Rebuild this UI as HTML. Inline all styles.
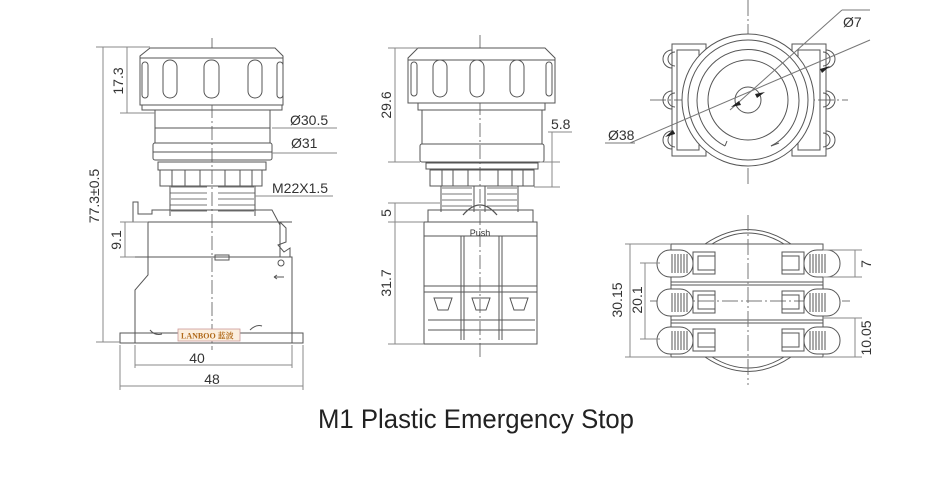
<!DOCTYPE html>
<html><head><meta charset="utf-8"><style>
html,body{margin:0;padding:0;background:#fff}
svg{display:block}
text{font-family:"Liberation Sans",sans-serif;fill:#333}
</style></head><body>
<svg width="951" height="480" viewBox="0 0 951 480" xmlns="http://www.w3.org/2000/svg">
<g fill="none" stroke="#555" stroke-width="1">
<!-- ===== LEFT VIEW ===== -->
<line x1="212" y1="38" x2="212" y2="350" stroke-dasharray="14 3 2 3" stroke="#777"/>
<path d="M150 48 H275 L283 56 V105 H140 V56 Z" fill="#fff"/>
<line x1="140" y1="58" x2="283" y2="58"/>
<g>
<rect x="142" y="62" width="6" height="36" rx="3"/><rect x="163" y="60" width="14" height="38" rx="7"/>
<rect x="204" y="60" width="15" height="38" rx="7"/><rect x="248" y="60" width="14" height="38" rx="7"/>
<rect x="277" y="62" width="6" height="36" rx="3"/>
</g>
<path d="M142 105 V110 H282 V105"/>
<rect x="155" y="110" width="115" height="33"/>
<line x1="155" y1="128" x2="270" y2="128"/>
<rect x="153" y="143" width="119" height="17" rx="2"/>
<line x1="153" y1="152" x2="272" y2="152"/>
<rect x="158" y="162" width="108" height="8"/>
<rect x="160" y="170" width="102" height="16"/>
<path d="M172 170 V186 M185 170 V186 M200 170 V186 M225 170 V186 M240 170 V186 M252 170 V186"/>
<path d="M171 187 H207 M170 193 H207 M171 199 H207 M170 205 H207 M171 211 H207 M218 187 H254 M218 193 H255 M218 199 H254 M218 205 H255 M218 211 H254" stroke="#777"/>
<path d="M170 186 V216 M255 186 V216"/>
<path d="M133 222 V202 H138 V214 H152 V210 H265 L272 210 L280 225"/>
<line x1="133" y1="222" x2="292" y2="222"/>
<path d="M148 222 V257 H280 V222" />
<path d="M280 222 L286 228 V242 L278 245 L284 252 L290 248 V257"/>
<path d="M135 257 H292 V333"/>
<path d="M148 257 V275 L135 290 V333"/>
<rect x="215" y="255" width="14" height="5"/>
<circle cx="281" cy="263" r="3"/>
<path d="M274 277 h10 M274 277 l3 -2 M274 277 l3 2"/>
<path d="M150 330 q5 6 12 4 M250 330 q6 -6 12 -4"/>
<rect x="120" y="333" width="183" height="10"/>
<line x1="135" y1="333" x2="135" y2="343"/><line x1="292" y1="333" x2="292" y2="343"/>
<line x1="96" y1="47" x2="150" y2="47" stroke="#888"/>
<line x1="127" y1="47" x2="127" y2="113" stroke="#888"/>
<line x1="120" y1="113" x2="155" y2="113" stroke="#888"/>
<line x1="103" y1="47" x2="103" y2="342" stroke="#888"/>
<line x1="96" y1="342" x2="120" y2="342" stroke="#888"/>
<line x1="125" y1="222" x2="125" y2="257" stroke="#888"/>
<line x1="120" y1="222" x2="148" y2="222" stroke="#888"/>
<line x1="120" y1="257" x2="135" y2="257" stroke="#888"/>
<line x1="272" y1="128" x2="337" y2="128" stroke="#888"/>
<line x1="272" y1="153" x2="337" y2="153" stroke="#888"/>
<line x1="255" y1="196" x2="333" y2="196" stroke="#888"/>
<line x1="135" y1="345" x2="135" y2="368" stroke="#888"/>
<line x1="292" y1="345" x2="292" y2="368" stroke="#888"/>
<line x1="135" y1="365" x2="292" y2="365" stroke="#888"/>
<line x1="120" y1="345" x2="120" y2="390" stroke="#888"/>
<line x1="303" y1="345" x2="303" y2="390" stroke="#888"/>
<line x1="120" y1="386" x2="303" y2="386" stroke="#888"/>

<!-- ===== MIDDLE VIEW ===== -->
<line x1="480" y1="35" x2="480" y2="360" stroke-dasharray="14 3 2 3" stroke="#777"/>
<path d="M418 48 H545 L555 58 V103 H408 V58 Z" fill="#fff"/>
<line x1="408" y1="60" x2="555" y2="60"/>
<rect x="411" y="62" width="6" height="34" rx="3"/><rect x="433" y="60" width="14" height="37" rx="7"/>
<rect x="470" y="60" width="14" height="37" rx="7"/><rect x="510" y="60" width="14" height="37" rx="7"/>
<rect x="546" y="62" width="6" height="34" rx="3"/>
<path d="M418 103 V110 H545 V103"/>
<rect x="422" y="110" width="120" height="34"/>
<rect x="420" y="144" width="124" height="18" rx="2"/>
<rect x="426" y="163" width="112" height="6"/>
<rect x="430" y="170" width="104" height="16"/>
<path d="M442 170 V186 M453 170 V186 M468 170 V186 M498 170 V186 M512 170 V186 M523 170 V186"/>
<path d="M442 188 H472 M442 194 H472 M442 200 H472 M442 206 H472 M487 188 H517 M487 194 H517 M487 200 H517 M487 206 H517" stroke="#777"/>
<path d="M441 186 V212 M518 186 V212 M474 186 V212 M485 186 V212"/>
<path d="M428 222 V210 H533 V222"/>
<path d="M463 215 Q480 195 497 215" stroke-width="1.3"/>
<rect x="424" y="222" width="113" height="122"/>
<line x1="424" y1="236" x2="537" y2="236"/>
<path d="M461 236 V340 M464 236 V340 M499 236 V340 M502 236 V340"/>
<path d="M424 286 H537 M424 292 H537"/>
<path d="M434 298 H452 L448 310 H438 Z M472 298 H490 L486 310 H476 Z M510 298 H528 L524 310 H514 Z"/>
<path d="M428 320 H535 M428 330 H535"/>
<line x1="388" y1="48" x2="418" y2="48" stroke="#888"/>
<line x1="395" y1="48" x2="395" y2="162" stroke="#888"/>
<line x1="388" y1="162" x2="420" y2="162" stroke="#888"/>
<line x1="548" y1="132" x2="572" y2="132" stroke="#888"/>
<line x1="552" y1="132" x2="552" y2="187" stroke="#888"/>
<line x1="540" y1="162" x2="560" y2="162" stroke="#888"/>
<line x1="534" y1="187" x2="560" y2="187" stroke="#888"/>
<line x1="388" y1="203" x2="440" y2="203" stroke="#888"/>
<line x1="395" y1="203" x2="395" y2="344" stroke="#888"/>
<line x1="388" y1="222" x2="424" y2="222" stroke="#888"/>
<line x1="388" y1="344" x2="424" y2="344" stroke="#888"/>

<!-- ===== TOP RIGHT VIEW ===== -->
<line x1="748" y1="0" x2="748" y2="185" stroke-dasharray="16 3 2 3" stroke="#777"/>
<line x1="650" y1="100" x2="848" y2="100" stroke-dasharray="16 3 2 3" stroke="#777"/>
<path d="M672 50 a9 9 0 0 0 0 18 M672 91 a9 9 0 0 0 0 18 M672 131 a9 9 0 0 0 0 18"/>
<path d="M826 50 a9 9 0 0 1 0 18 M826 91 a9 9 0 0 1 0 18 M826 131 a9 9 0 0 1 0 18"/>
<path d="M675 52 a7 7 0 0 0 0 14 M675 93 a7 7 0 0 0 0 14 M675 133 a7 7 0 0 0 0 14"/>
<path d="M823 52 a7 7 0 0 1 0 14 M823 93 a7 7 0 0 1 0 14 M823 133 a7 7 0 0 1 0 14"/>
<rect x="672" y="44" width="34" height="112"/><rect x="677" y="50" width="22" height="100"/>
<rect x="792" y="44" width="34" height="112"/><rect x="798" y="50" width="22" height="100"/>
<circle cx="748" cy="100" r="66" fill="#fff"/>
<circle cx="748" cy="100" r="60"/>
<path d="M771 146 A51 51 0 1 0 725 146"/>
<path d="M725 146 l2 -5 M771 146 l8 -3"/>
<circle cx="748" cy="100" r="40"/>
<circle cx="748" cy="100" r="13"/>
<line x1="630" y1="143" x2="870" y2="40" stroke="#777"/>
<line x1="730" y1="110" x2="842" y2="10" stroke="#777"/>
<line x1="842" y1="10" x2="870" y2="10" stroke="#777"/>
<line x1="605" y1="143" x2="635" y2="143" stroke="#777"/>
<!-- ===== BOTTOM RIGHT VIEW ===== -->
<path d="M705 244 Q748 215 791 244"/><path d="M712 244 Q748 222 784 244"/>
<path d="M705 357 Q748 386 791 357"/><path d="M712 357 Q748 379 784 357"/>
<rect x="671" y="244" width="152" height="113" fill="#fff"/>
<path d="M671 282 H823 M671 285 H823 M671 320 H823 M671 323 H823" />
<line x1="748" y1="215" x2="748" y2="385" stroke-dasharray="16 3 2 3" stroke="#777"/>
<line x1="650" y1="301" x2="850" y2="301" stroke-dasharray="16 3 2 3" stroke="#777"/>
<g id="row">
<rect x="657" y="250" width="36" height="27" rx="13" fill="#fff"/>
<path d="M672 254 V273 M675 254 V273 M678 254 V273 M681 254 V273 M684 254 V273 M687 254 V273"/>
<rect x="693" y="252" width="22" height="22"/><rect x="698" y="256" width="17" height="14"/>
<rect x="804" y="250" width="36" height="27" rx="13" fill="#fff"/>
<path d="M810 254 V273 M813 254 V273 M816 254 V273 M819 254 V273 M822 254 V273 M825 254 V273"/>
<rect x="782" y="252" width="22" height="22"/><rect x="782" y="256" width="17" height="14"/>
</g>
<use href="#row" y="39"/>
<use href="#row" y="77"/>
<line x1="625" y1="244" x2="671" y2="244" stroke="#888"/>
<line x1="625" y1="357" x2="671" y2="357" stroke="#888"/>
<line x1="630" y1="244" x2="630" y2="357" stroke="#888"/>
<line x1="640" y1="263" x2="660" y2="263" stroke="#888"/>
<line x1="640" y1="339" x2="660" y2="339" stroke="#888"/>
<line x1="645" y1="263" x2="645" y2="339" stroke="#888"/>
<line x1="823" y1="250" x2="862" y2="250" stroke="#888"/>
<line x1="823" y1="277" x2="862" y2="277" stroke="#888"/>
<line x1="855" y1="250" x2="855" y2="277" stroke="#888"/>
<line x1="823" y1="318" x2="862" y2="318" stroke="#888"/>
<line x1="823" y1="357" x2="862" y2="357" stroke="#888"/>
<line x1="855" y1="318" x2="855" y2="357" stroke="#888"/>
</g>
<g fill="#222">
<path d="M665 137 l8 -7 l2 4 Z"/><path d="M830 66 l-8 7 l-2 -4 Z"/>
<path d="M731 107 l8 -6 l2 4 Z"/><path d="M765 92 l-8 6 l-2 -4 Z"/>
</g>
<rect x="178" y="329" width="62" height="12" fill="#fbeedd" stroke="#c99" stroke-width="0.8"/>
<text x="181" y="338.5" font-size="8" style="fill:#b06a1a;font-family:'Liberation Serif','Noto Serif CJK SC',serif;font-weight:bold">LANBOO 蓝波</text>
<g font-size="14">
<text x="290" y="125">Ø30.5</text>
<text x="291" y="148">Ø31</text>
<text x="272" y="193">M22X1.5</text>
<text x="197" y="363" text-anchor="middle">40</text>
<text x="212" y="384" text-anchor="middle">48</text>
<text transform="translate(123 81) rotate(-90)" text-anchor="middle">17.3</text>
<text transform="translate(99 196) rotate(-90)" text-anchor="middle">77.3±0.5</text>
<text transform="translate(121 240) rotate(-90)" text-anchor="middle">9.1</text>
<text transform="translate(391 105) rotate(-90)" text-anchor="middle">29.6</text>
<text transform="translate(391 213) rotate(-90)" text-anchor="middle">5</text>
<text transform="translate(391 283) rotate(-90)" text-anchor="middle">31.7</text>
<text x="551" y="129">5.8</text>
<text x="843" y="27">Ø7</text>
<text x="608" y="140">Ø38</text>
<text transform="translate(622 300) rotate(-90)" text-anchor="middle">30.15</text>
<text transform="translate(642 300) rotate(-90)" text-anchor="middle">20.1</text>
<text transform="translate(871 264) rotate(-90)" text-anchor="middle">7</text>
<text transform="translate(871 338) rotate(-90)" text-anchor="middle">10.05</text>
</g>
<text x="480" y="236" font-size="9" text-anchor="middle">Push</text>
<text x="318" y="428" font-size="27" textLength="316" lengthAdjust="spacingAndGlyphs" style="fill:#222">M1 Plastic Emergency Stop</text>
</svg>
</body></html>
